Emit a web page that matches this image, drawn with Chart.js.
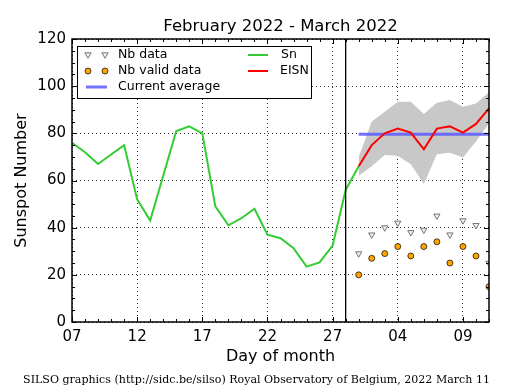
<!DOCTYPE html>
<html>
<head>
<meta charset="utf-8">
<script src="https://cdn.jsdelivr.net/npm/chart.js@4/dist/chart.umd.min.js"></script>
<style>
html,body{margin:0;padding:0;background:#fff;}
#c{display:block;}
</style>
</head>
<body>
<canvas id="c" width="515" height="390"></canvas>
<script>
// ---- data ----
const days = ['07','08','09','10','11','12','13','14','15','16','17','18','19','20','21','22','23','24','25','26','27','28',
              '01','02','03','04','05','06','07','08','09','10','11'];
const tickEvery = 5;
const snValues = [76,72,67,71,75,52,43,62,81,83,80,49,41,44,48,37,35.5,31.3,23.5,25.3,32.4,56,66];
const eisnValues = [66,75,80,82,80.3,73.2,82,83,80.3,84,90.6];
const bandUpper = [70,85,89.2,93.4,93.4,88.2,93,94.1,91.3,92.7,97.4];
const bandLower = [62,66,70.8,70.5,66.9,58.5,71.1,71.8,69.7,76.5,84.3];
const currentAverage = [79.6,79.6,79.6,79.6,79.6,79.6,79.6,79.6,79.6,79.6,79.6];
const nbData = [29,37,40,42,38,39,45,37,43,41,25];
const nbValid = [20,27,29,32,28,32,34,25,32,28,15];
const yTicks = {min:0, max:120, step:20, minor:5};
const monthBreak = '28';
const titleText = 'February 2022 - March 2022';
const xTitle = 'Day of month';
const yTitle = 'Sunspot Number';
const footerText = 'SILSO graphics (http://sidc.be/silso) Royal Observatory of Belgium, 2022 March 11';

// pad series onto the day axis
const startNew = days.length - eisnValues.length; // index of Mar 01
function padTail(arr){ return Array(startNew).fill(null).concat(arr); }
const snSeries = snValues.concat(Array(days.length - snValues.length).fill(null));

const FONT = 'DejaVu Sans';

const framePlugin = {
  id:'frame',
  afterDatasetsDraw(chart){
    const ctx = chart.ctx, a = chart.chartArea;
    const xs = chart.scales.x, ys = chart.scales.y;
    ctx.save();
    // vertical month-break line
    const bx = xs.getPixelForValue(days.indexOf(monthBreak));
    ctx.strokeStyle = '#000'; ctx.lineWidth = 1.3;
    ctx.beginPath(); ctx.moveTo(bx, a.top); ctx.lineTo(bx, a.bottom); ctx.stroke();
    // ticks
    ctx.lineWidth = 1;
    for (let i=0;i<days.length;i++){
      const x = Math.round(xs.getPixelForValue(i))+0.5;
      const L = (i%tickEvery===0)?5:3;
      ctx.beginPath();
      ctx.moveTo(x,a.bottom); ctx.lineTo(x,a.bottom-L);
      ctx.moveTo(x,a.top); ctx.lineTo(x,a.top+L);
      ctx.stroke();
    }
    for (let v=yTicks.min; v<=yTicks.max; v+=yTicks.minor){
      const y = Math.round(ys.getPixelForValue(v))+0.5;
      const L = (v%yTicks.step===0)?5:3;
      ctx.beginPath();
      ctx.moveTo(a.left,y); ctx.lineTo(a.left+L,y);
      ctx.moveTo(a.right,y); ctx.lineTo(a.right-L,y);
      ctx.stroke();
    }
    // frame
    ctx.lineWidth = 1.5;
    ctx.strokeRect(a.left, a.top, a.right-a.left, a.bottom-a.top);

    // legend
    const lx=77, ly=46, lw=234, lh=52;
    ctx.fillStyle='#fff'; ctx.fillRect(lx,ly,lw,lh);
    ctx.lineWidth=1; ctx.strokeStyle='#000';
    ctx.strokeRect(lx+0.5,ly+0.5,lw,lh);
    ctx.font = '12.5px "'+FONT+'"'; ctx.textBaseline='middle'; ctx.textAlign='left'; ctx.fillStyle='#000';
    const rows=[55,71,87];
    ctx.fillStyle='#eeeeee'; ctx.strokeStyle='#555'; ctx.lineWidth=0.8;
    [88,105].forEach(x=>{
      ctx.beginPath();
      ctx.moveTo(x-3.2,rows[0]-2.2); ctx.lineTo(x+3.2,rows[0]-2.2); ctx.lineTo(x,rows[0]+3.2); ctx.closePath();
      ctx.fill(); ctx.stroke();
    });
    ctx.fillStyle='#ffa500'; ctx.strokeStyle='#000'; ctx.lineWidth=0.7;
    [88,105].forEach(x=>{ ctx.beginPath(); ctx.arc(x,rows[1],3,0,Math.PI*2); ctx.fill(); ctx.stroke(); });
    ctx.lineWidth=3; ctx.strokeStyle='rgba(90,90,255,0.85)';
    ctx.beginPath(); ctx.moveTo(86,rows[2]); ctx.lineTo(107,rows[2]); ctx.stroke();
    ctx.lineWidth=2; ctx.strokeStyle='#33cc33';
    ctx.beginPath(); ctx.moveTo(248,rows[0]); ctx.lineTo(268,rows[0]); ctx.stroke();
    ctx.strokeStyle='#ff0000';
    ctx.beginPath(); ctx.moveTo(248,rows[1]); ctx.lineTo(268,rows[1]); ctx.stroke();
    ctx.fillStyle='#000';
    ctx.fillText('Nb data',118,rows[0]);
    ctx.fillText('Nb valid data',118,rows[1]);
    ctx.fillText('Current average',118,rows[2]);
    ctx.fillText('Sn',281,rows[0]);
    ctx.fillText('EISN',280,rows[1]);

    // titles
    ctx.textAlign='center';
    ctx.font = '16.5px "'+FONT+'"';
    ctx.fillText(titleText,(a.left+a.right)/2,27);
    ctx.font = '16px "'+FONT+'"';
    ctx.fillText(xTitle,(a.left+a.right)/2,357);
    ctx.save();
    ctx.translate(22,(a.top+a.bottom)/2); ctx.rotate(-Math.PI/2);
    ctx.fillText(yTitle,0,0);
    ctx.restore();
    ctx.font = '11.05px "DejaVu Serif"';
    ctx.fillText(footerText,256.5,380);
    ctx.restore();
  }
};

new Chart(document.getElementById('c'), {
  type:'line',
  data:{
    labels: days,
    datasets:[
      {label:'band upper', data: padTail(bandUpper), fill:'+1', backgroundColor:'#c8c8c8', borderWidth:0, pointRadius:0, order:20, clip:0},
      {label:'band lower', data: padTail(bandLower), fill:false, borderWidth:0, pointRadius:0, order:21, clip:0},
      {label:'Sn', data: snSeries, borderColor:'#33cc33', borderWidth:2, pointRadius:0, fill:false, order:6, tension:0},
      {label:'Current average', data: padTail(currentAverage), borderColor:'rgba(90,90,255,0.85)', borderWidth:3, pointRadius:0, fill:false, order:5},
      {label:'EISN', data: padTail(eisnValues), borderColor:'#ff0000', borderWidth:2, pointRadius:0, fill:false, order:4},
      {label:'Nb data', data: padTail(nbData), showLine:false, pointStyle:'triangle', rotation:180, pointRadius:3.6,
        pointBackgroundColor:'#eeeeee', pointBorderColor:'#555', pointBorderWidth:0.8, order:3, clip:0},
      {label:'Nb valid data', data: padTail(nbValid), showLine:false, pointStyle:'circle', pointRadius:3,
        pointBackgroundColor:'#ffa500', pointBorderColor:'#000', pointBorderWidth:0.7, order:2, clip:0}
    ]
  },
  options:{
    responsive:false, animation:false, devicePixelRatio:1,
    layout:{padding:{top:39,right:26,left:0,bottom:0}},
    plugins:{legend:{display:false}, title:{display:false}, tooltip:{enabled:false}},
    elements:{line:{tension:0}},
    scales:{
      x:{
        type:'category', offset:false,
        grid:{color:(c)=> (c.index%tickEvery===0)?'#000':'rgba(0,0,0,0)', lineWidth:0.8, drawTicks:false},
        border:{display:false, dash:[1,3]},
        ticks:{autoSkip:false, maxRotation:0, minRotation:0, padding:6, color:'#000',
          font:{family:FONT,size:15},
          callback:(v,i)=> (i%tickEvery===0)?days[i]:''},
        afterFit:(s)=>{s.height=68;}
      },
      y:{
        min:yTicks.min, max:yTicks.max,
        grid:{color:'#000', lineWidth:0.8, drawTicks:false},
        border:{display:false, dash:[1,3]},
        ticks:{stepSize:yTicks.step, padding:6, color:'#000', font:{family:FONT,size:15}},
        afterFit:(s)=>{s.width=72;}
      }
    }
  },
  plugins:[framePlugin]
});
</script>
</body>
</html>
